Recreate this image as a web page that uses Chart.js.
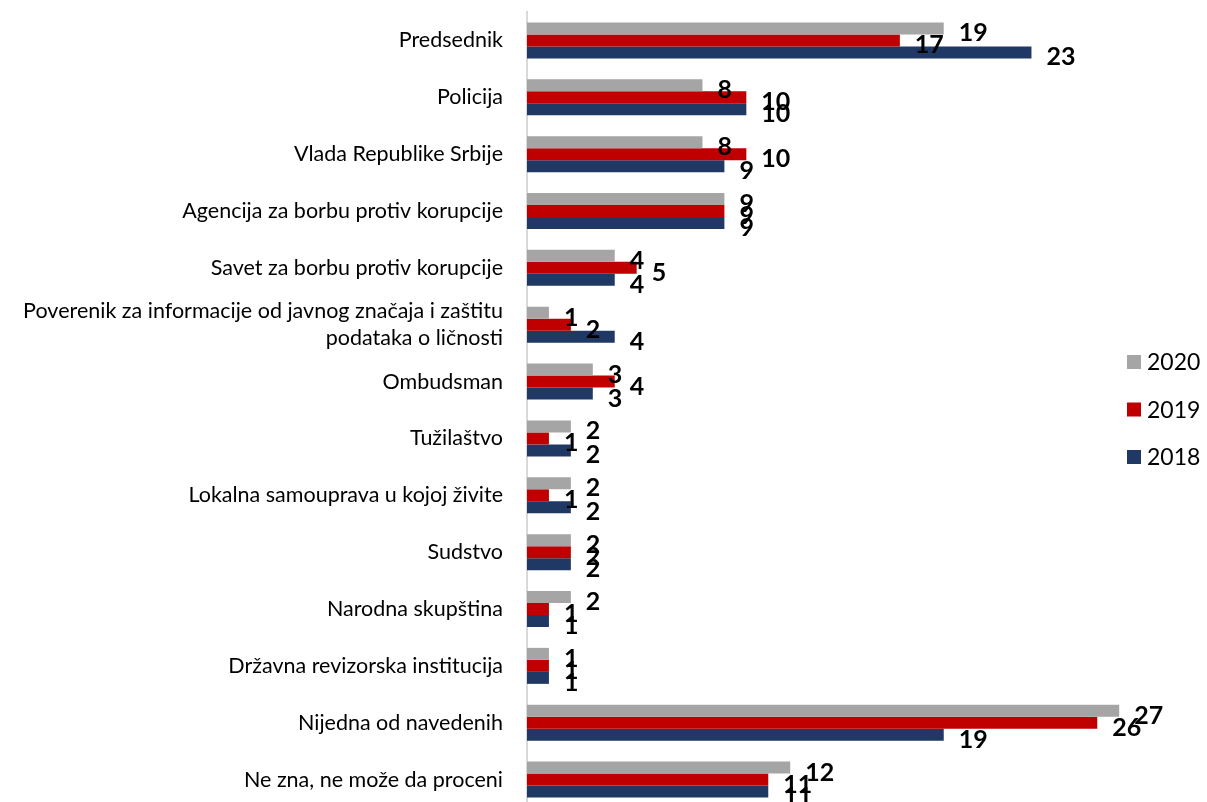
<!DOCTYPE html>
<html>
<head>
<meta charset="utf-8">
<script src="https://cdn.jsdelivr.net/npm/chart.js@4.4.0/dist/chart.umd.min.js"></script>
<style>
html, body { margin: 0; padding: 0; background: #fff; overflow: hidden; }
#wrap { width: 1207px; height: 808px; position: relative; }
</style>
</head>
<body>
<div id="wrap"><canvas id="myCanvasBarGraph"></canvas></div>
<script>
var institutions = [
	'Predsednik',
	'Policija',
	'Vlada Republike Srbije',
	'Agencija za borbu protiv korupcije',
	'Savet za borbu protiv korupcije',
	['Poverenik za informacije od javnog značaja i zaštitu', 'podataka o ličnosti'],
	'Ombudsman',
	'Tužilaštvo',
	'Lokalna samouprava u kojoj živite',
	'Sudstvo',
	'Narodna skupština',
	'Državna revizorska institucija',
	'Nijedna od navedenih',
	'Ne zna, ne može da proceni'
];
var years = ['2020', '2019', '2018'];
var values2020 = [19, 8, 8, 9, 4, 1, 3, 2, 2, 2, 2, 1, 27, 12];
var values2019 = [17, 10, 10, 9, 5, 2, 4, 1, 1, 2, 1, 1, 26, 11];
var values2018 = [23, 10, 9, 9, 4, 4, 3, 2, 2, 2, 1, 1, 19, 11];
var colors = ['#a5a5a5', '#c00000', '#203864'];

// value labels at the end of each bar
var barLabels = {
	id: 'barLabels',
	afterDatasetsDraw: function(chart){
		var ctx = chart.ctx;
		ctx.save();
		ctx.font = 'bold 25px Lato';
		ctx.fillStyle = '#000';
		ctx.textAlign = 'left';
		ctx.textBaseline = 'middle';
		chart.data.datasets.forEach(function(ds, i){
			chart.getDatasetMeta(i).data.forEach(function(bar, j){
				ctx.fillText(ds.data[j], bar.x + 15, bar.y + 5);
			});
		});
		ctx.restore();
	}
};

// legend sits over the right edge of the plot, like in Excel
var sideLegend = {
	id: 'sideLegend',
	afterDraw: function(chart){
		var ctx = chart.ctx;
		ctx.save();
		ctx.font = '23px Lato';
		ctx.textAlign = 'left';
		ctx.textBaseline = 'middle';
		chart.data.datasets.forEach(function(ds, i){
			var y = 362 + i * 47.5;
			ctx.fillStyle = ds.backgroundColor;
			ctx.fillRect(1127, y - 7, 14, 14);
			ctx.fillStyle = '#000';
			ctx.fillText(ds.label, 1147, y + 1);
		});
		ctx.restore();
	}
};

var chartdata = {
	labels: institutions,
	datasets: [
		{ label: years[0], backgroundColor: colors[0], data: values2020 },
		{ label: years[1], backgroundColor: colors[1], data: values2019 },
		{ label: years[2], backgroundColor: colors[2], data: values2018 }
	]
};

var ctx = document.getElementById('myCanvasBarGraph');

var barGraph = new Chart(ctx, {
	type: 'bar',
	data: chartdata,
	plugins: [barLabels, sideLegend],
	options: {
		indexAxis: 'y',
		responsive: true,
		maintainAspectRatio: false,
		animation: false,
		layout: { padding: { top: 12, right: 22, bottom: 0, left: 0 } },
		datasets: {
			bar: { categoryPercentage: 0.633, barPercentage: 1.0 }
		},
		plugins: {
			legend: { display: false },
			tooltip: { enabled: false }
		},
		scales: {
			x: {
				display: false,
				min: 0,
				max: 30
			},
			y: {
				grid: { display: false, drawTicks: false },
				border: { display: true, color: '#d9d9d9', width: 2 },
				ticks: {
					color: '#000',
					padding: 24,
					autoSkip: false,
					font: { family: 'Lato', size: 21.5, lineHeight: 1.25 }
				},
				afterFit: function(scale){
					scale.width = 527;
					scale.paddingTop = 0;
					scale.paddingBottom = 0;
				}
			}
		}
	}
});
</script>
</body>
</html>
